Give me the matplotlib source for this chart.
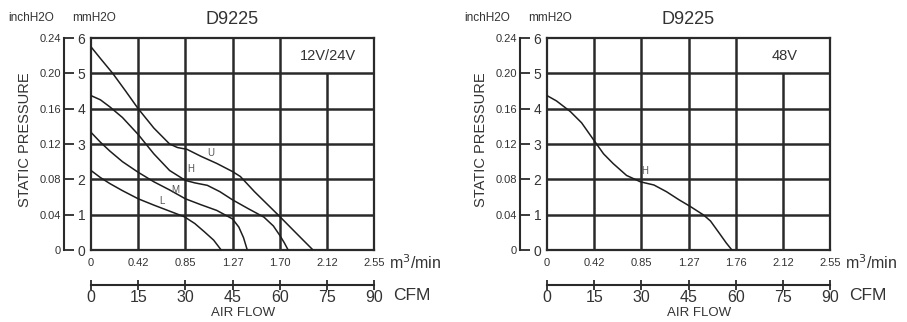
import matplotlib
matplotlib.use("Agg")
import matplotlib.pyplot as plt

plt.rcParams['font.family'] = ['Liberation Sans', 'DejaVu Sans']

W, H = 907, 322

# ---------------- data ----------------
cfm_ticks = [0, 15, 30, 45, 60, 75, 90]
cmm_labels_left = ["0", "0.42", "0.85", "1.27", "1.70", "2.12", "2.55"]
cmm_labels_right = ["0", "0.42", "0.85", "1.27", "1.76", "2.12", "2.55"]
mm_ticks = [0, 1, 2, 3, 4, 5, 6]
inch_ticks = [0, 0.04, 0.08, 0.12, 0.16, 0.20, 0.24]
inch_labels = ["0", "0.04", "0.08", "0.12", "0.16", "0.20", "0.24"]

u_cfm = [0, 3, 6.9, 11, 15, 20, 25, 27.5, 30.5, 35, 40, 45, 47.5, 52, 56, 60, 65, 70.6]
u_mm = [5.75, 5.42, 5.0, 4.5, 4.0, 3.45, 3.0, 2.9, 2.85, 2.65, 2.45, 2.22, 2.08, 1.65, 1.3, 0.95, 0.5, 0]

h_cfm = [0, 3, 6, 10, 15, 20, 25, 30, 33, 37, 41, 45, 50, 55, 58, 60, 61.5, 62.7]
h_mm = [4.37, 4.25, 4.05, 3.75, 3.27, 2.72, 2.25, 1.97, 1.9, 1.83, 1.65, 1.42, 1.17, 0.93, 0.68, 0.42, 0.2, 0]

m_cfm = [0, 3, 6, 10, 15, 20, 25, 30, 35, 40, 45, 47, 48.5, 49.7]
m_mm = [3.33, 3.05, 2.8, 2.5, 2.2, 1.93, 1.7, 1.45, 1.28, 1.12, 0.88, 0.65, 0.35, 0]

l_cfm = [0, 3, 6, 10, 15, 20, 25, 29.7, 33, 36, 39, 41.4]
l_mm = [2.25, 2.05, 1.88, 1.68, 1.45, 1.27, 1.1, 0.94, 0.75, 0.52, 0.28, 0]

v48_cfm = [0, 3, 7.4, 11, 14.8, 18, 21, 25.3, 29.7, 34, 38, 42, 45.6, 49.8, 52, 55, 57, 58.8]
v48_mm = [4.37, 4.22, 3.92, 3.6, 3.12, 2.72, 2.45, 2.11, 1.93, 1.84, 1.65, 1.42, 1.23, 0.99, 0.82, 0.45, 0.2, 0]

GRID = '#2a2a2a'
TXT = '#333333'
CURVE = '#1e1e1e'

fig = plt.figure(figsize=(W / 100, H / 100), dpi=100)
fig.patch.set_facecolor('white')


def px_axes(x0, x1, ytop, ybot):
    return fig.add_axes([x0 / W, 1 - ybot / H, (x1 - x0) / W, (ybot - ytop) / H])


def make_chart(x0, x1, cmm_labels, note, note_x, curves, labels):
    ax = px_axes(x0, x1, 38, 250)
    ax.set_xlim(0, 90)
    ax.set_ylim(0, 6)
    for s in ax.spines.values():
        s.set_color(GRID)
        s.set_linewidth(1.6)
    # grid
    for y in mm_ticks[1:-1]:
        ax.axhline(y, color=GRID, lw=1.8, zorder=1)
    for x in cfm_ticks[1:5]:
        ax.axvline(x, color=GRID, lw=1.8, zorder=1)
    ax.vlines(cfm_ticks[5], 0, 5, color=GRID, lw=1.8, zorder=1)

    # curves
    for cx, cy in curves:
        ax.plot(cx, cy, color=CURVE, lw=1.1, zorder=3, solid_joinstyle='round')
    for txt, lx, ly in labels:
        ax.text(lx, ly, txt, fontsize=7, color='#555555', ha='center', va='center', zorder=4)

    # bottom axis: m3/min labels
    ax.set_xticks(cfm_ticks)
    ax.set_xticklabels(cmm_labels, fontsize=8, color=TXT)
    ax.tick_params(axis='x', length=0, pad=6)
    # left: mm labels
    ax.set_yticks(mm_ticks)
    ax.set_yticklabels([str(v) for v in mm_ticks], fontsize=10, color=TXT)
    ax.tick_params(axis='y', length=0, pad=4)

    # inch axis (detached)
    sec = ax.secondary_yaxis(-27 / 283, functions=(lambda y: y * 0.04, lambda y: y / 0.04))
    sec.set_yticks(inch_ticks)
    sec.set_yticklabels(inch_labels, fontsize=8, color=TXT)
    sec.tick_params(axis='y', direction='in', length=7, width=1.3, color=GRID, pad=2)
    sec.spines['left'].set_color(GRID)
    sec.spines['left'].set_linewidth(1.5)

    # CFM axis
    cfm = ax.secondary_xaxis(-35 / 212)
    cfm.set_xticks(cfm_ticks)
    cfm.set_xticklabels([str(v) for v in cfm_ticks], fontsize=11.5, color=TXT)
    cfm.tick_params(axis='x', direction='inout', length=7, width=1.3, color=GRID, pad=0)
    cfm.spines['bottom'].set_color(GRID)
    cfm.spines['bottom'].set_linewidth(1.5)

    # texts
    fig.text((x1 + 15) / W, 1 - 263 / H, "m$^3$/min", fontsize=11.5, color=TXT, ha='left', va='center')
    fig.text((x1 + 19) / W, 1 - 296 / H, "CFM", fontsize=12.5, color=TXT, ha='left', va='center')
    fig.text((x0 + 152) / W, 1 - 313 / H, "AIR FLOW", fontsize=9.5, color=TXT,
             ha='center', va='center')
    fig.text((x0 + 141) / W, 1 - 19 / H, "D9225", fontsize=13, color=TXT, ha='center', va='center')
    fig.text((x0 - 83) / W, 1 - 18 / H, "inchH2O", fontsize=8.5, color=TXT, ha='left', va='center')
    fig.text((x0 - 19) / W, 1 - 18 / H, "mmH2O", fontsize=8.5, color=TXT, ha='left', va='center')
    fig.text((x0 - 66) / W, 1 - 140 / H, "STATIC PRESSURE", fontsize=10.5, color=TXT,
             rotation=90, ha='center', va='center')
    ax.text(note_x, 5.5, note, fontsize=10.5, color=TXT, ha='center', va='center')
    return ax


make_chart(91, 374, cmm_labels_left, "12V/24V", 75.5,
           [(u_cfm, u_mm), (h_cfm, h_mm), (m_cfm, m_mm), (l_cfm, l_mm)],
           [("U", 38, 2.75), ("H", 31.6, 2.3), ("M", 26.7, 1.7), ("L", 22.5, 1.4)])
make_chart(547, 830, cmm_labels_right, "48V", 75.5,
           [(v48_cfm, v48_mm)],
           [("H", 31, 2.25)])

fig.savefig("out.png", dpi=100, facecolor='white')
